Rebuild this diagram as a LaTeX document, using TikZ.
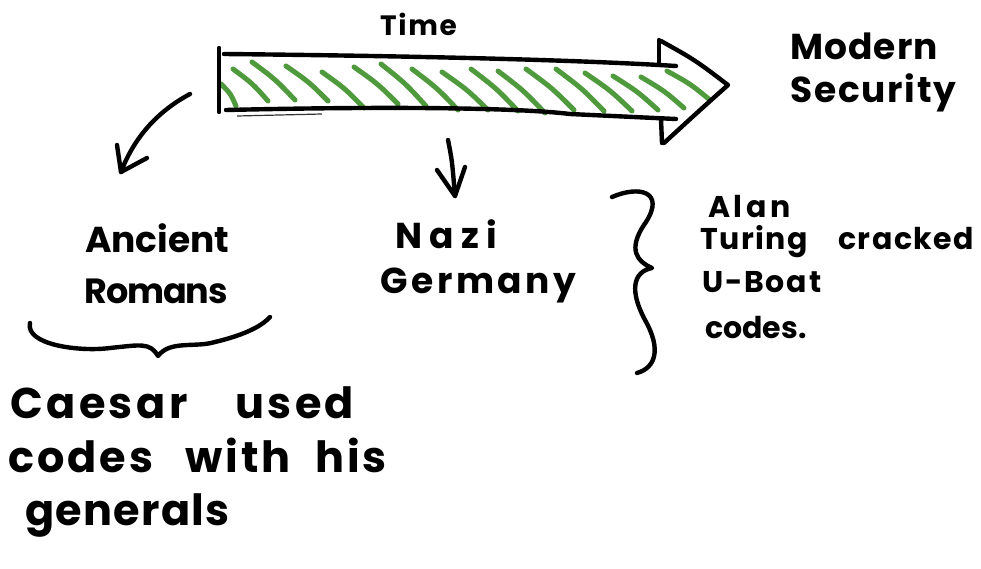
\documentclass[tikz,border=0pt]{standalone}
\usepackage{fontspec}
\setmainfont{Poppins}
\begin{document}
\begin{tikzpicture}[x=1pt,y=-1pt,
  pen/.style={line width=4.4pt,line cap=round,line join=round,black},
  hatch/.style={line width=5pt,line cap=round,draw={rgb,255:red,78;green,154;blue,60}},
  hand/.style 2 args={inner sep=0pt,anchor=base west,
    font=\fontsize{#1}{#1}\selectfont\bfseries\addfontfeature{LetterSpace=#2}}]
\useasboundingbox[fill=white] (0,0) rectangle (981,569);

% green hatching inside the shaft
\foreach \xa/\ya/\xb/\yb in {221/84/236/106, 233/69/268/101, 252/62/295/100, 286/66/328/101,
  322/72/364/108, 354/67/398/104, 381/64/426/106, 412/69/458/110, 442/72/488/110,
  471/69/518/111, 498/71/545/113, 526/69/574/110, 556/69/604/111, 585/73/632/111,
  613/76/658/110, 641/77/684/108, 667/71/710/100}
  \draw[hatch] (\xa,\ya) .. controls ({(\xa+\xb)/2+2},{(\ya+\yb)/2-1.5}) .. (\xb,\yb);

% the arrow of time
\draw[pen] (219,48) -- (219,112);
\draw[pen] (224,54) .. controls (420,56) and (580,60) .. (676,66);
\draw[pen] (226,110) .. controls (400,106) and (520,108) .. (570,114) -- (676,119);
\draw[pen] (659,40) -- (659,64);
\draw[pen] (661,119) -- (662,143);
\draw[pen] (661,41) .. controls (695,60) .. (728,85) .. controls (700,110) .. (664,143);
\draw[line width=1.2pt,black!80] (237,116) -- (322,114);

% arrows down from the timeline
\coordinate (ra) at (190,94);
\coordinate (rb) at (121,172);
\draw[pen] (ra) .. controls (160,110) and (135,135) .. (rb);
\draw[pen] (117,145) -- (rb) -- (147,158);
\coordinate (na) at (448,140);
\coordinate (nb) at (455,196);
\draw[pen] (na) .. controls (452,160) .. (nb);
\draw[pen] (437,170) -- (nb) -- (465,167);

% braces
\draw[pen] (30,323) .. controls (25,345) and (80,352) .. (110,348)
  .. controls (140,345) and (150,342) .. (158,356)
  .. controls (170,340) and (195,348) .. (215,342)
  .. controls (240,336) and (260,328) .. (270,317);
\draw[pen] (612,197) .. controls (640,185) and (665,192) .. (646,222)
  .. controls (626,250) and (638,262) .. (652,268)
  .. controls (632,272) and (630,292) .. (645,320)
  .. controls (662,350) and (655,368) .. (637,373);

% labels
\node[hand={28}{6}] (time) at (380,36) {Time};
\node[hand={36}{3}] (mod) at (790,60) {Modern};
\node[hand={36}{5}] (sec) at (790,103) {Security};
\node[hand={36}{0}] (anc) at (85,252) {Ancient};
\node[hand={35}{-3}] (rom) at (84,303) {Romans};
\node[hand={36}{20}] (nazi) at (395,248) {Nazi};
\node[hand={36}{10}] (ger) at (380,293) {Germany};
\node[hand={30}{12}] (alan) at (708,218) {Alan};
\node[hand={30}{5}] (tur) at (700,249) {\makebox[138pt][l]{Turing}cracked};
\node[hand={30}{6}] (ub) at (702,292) {U-Boat};
\node[hand={30}{0}] (cod) at (705,338) {codes.};
\node[hand={43}{8}] (c1) at (10,418) {\makebox[225pt][l]{Caesar}used};
\node[hand={43}{7}] (c2) at (8,472) {\makebox[177pt][l]{codes}\makebox[130pt][l]{with}his};
\node[hand={43}{3}] (c3) at (25,525) {generals};
\end{tikzpicture}
\end{document}
